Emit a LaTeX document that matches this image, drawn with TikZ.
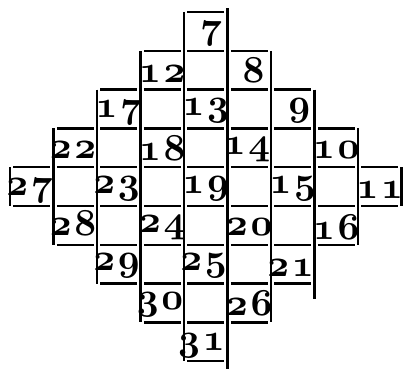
\RequirePackage{fix-cm}
\documentclass[tikz,border=0pt]{standalone}
\usepackage{tikz}

% bold old-style figures from the math italic font
\newcommand{\sqnum}[1]{{\usefont{OML}{cmm}{b}{it}#1}}
\newcommand{\gap}{\kern2pt}

\begin{document}
\begin{tikzpicture}[
  x=1.0875cm, y=-0.97cm,
  num/.style={
    font=\fontsize{27}{27}\selectfont,
    inner sep=0pt
  },
  rule/.style={line width=1.8pt},
  heavy/.style={line width=2.6pt}
]
  \useasboundingbox (-0.23,-0.309) rectangle (9.08,9.278);

  % cross rules, column by column
  \foreach \c/\a/\b in {0/4/5, 1/3/6, 2/2/7, 3/1/8, 4/0/9, 5/1/8, 6/2/7, 7/3/6, 8/4/5}
    \foreach \r in {\a,...,\b}
      \draw[rule] (\c+0.08,\r) -- (\c+0.92,\r);

  % upright rules
  \foreach \k/\a/\b in {0/4/5, 1/3/6, 2/2/7, 3/1/8, 4/0/9, 6/1/8, 8/3/6, 9/4/5}
    \draw[rule] (\k,\a) -- (\k,\b);
  \draw[heavy] (5,-0.1) -- (5,9.2);
  \draw[heavy] (7,2) -- (7,7.4);

  \node[num] (sq7)  at (4.62,0.55) {\sqnum{7}};
  \node[num] (sq8)  at (5.6,1.5) {\sqnum{8}};
  \node[num] (sq9)  at (6.65,2.55) {\sqnum{9}};
  \node[num] (sq10) at (7.5,3.55) {\sqnum{1\gap0}};
  \node[num] (sq11) at (8.5,4.6) {\sqnum{1\gap1}};

  \node[num] (sq12) at (3.5,1.6) {\sqnum{1\gap2}};
  \node[num] (sq13) at (4.5,2.55) {\sqnum{1\gap3}};
  \node[num] (sq14) at (5.45,3.55) {\sqnum{1\gap4}};
  \node[num] (sq15) at (6.5,4.55) {\sqnum{1\gap5}};
  \node[num] (sq16) at (7.5,5.55) {\sqnum{1\gap6}};

  \node[num] (sq17) at (2.5,2.6) {\sqnum{1\gap7}};
  \node[num] (sq18) at (3.5,3.5) {\sqnum{1\gap8}};
  \node[num] (sq19) at (4.5,4.55) {\sqnum{1\gap9}};
  \node[num] (sq20) at (5.5,5.55) {\sqnum{2\gap0}};
  \node[num] (sq21) at (6.45,6.6) {\sqnum{2\gap1}};

  \node[num] (sq22) at (1.45,3.55) {\sqnum{2\gap2}};
  \node[num] (sq23) at (2.45,4.55) {\sqnum{2\gap3}};
  \node[num] (sq24) at (3.5,5.55) {\sqnum{2\gap4}};
  \node[num] (sq25) at (4.45,6.55) {\sqnum{2\gap5}};
  \node[num] (sq26) at (5.5,7.5) {\sqnum{2\gap6}};

  \node[num] (sq27) at (0.45,4.6) {\sqnum{2\gap7}};
  \node[num] (sq28) at (1.45,5.45) {\sqnum{2\gap8}};
  \node[num] (sq29) at (2.45,6.55) {\sqnum{2\gap9}};
  \node[num] (sq30) at (3.45,7.55) {\sqnum{3\gap0}};
  \node[num] (sq31) at (4.4,8.6) {\sqnum{3\gap1}};
\end{tikzpicture}
\end{document}
